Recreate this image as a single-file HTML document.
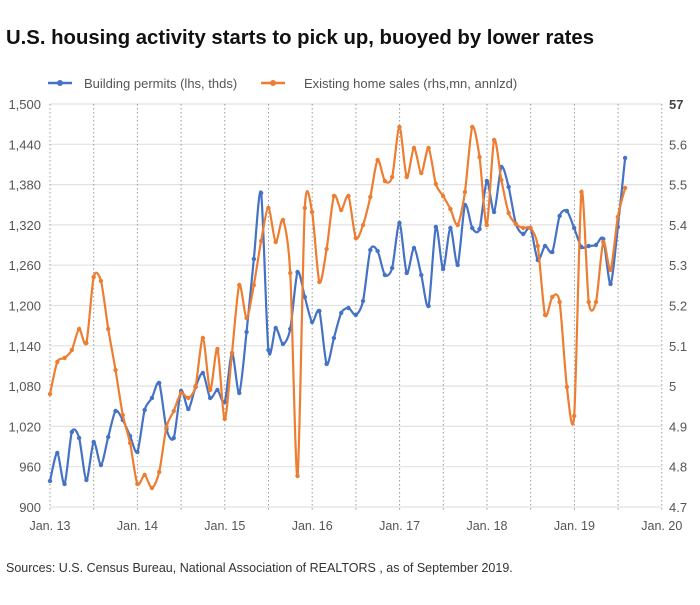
<!DOCTYPE html>
<html><head><meta charset="utf-8"><style>
body{margin:0;background:#fff;font-family:"Liberation Sans",sans-serif;}
</style></head><body>
<svg id="s" width="700" height="600" xmlns="http://www.w3.org/2000/svg" font-family="Liberation Sans, sans-serif">
<text x="6" y="44" font-size="20" font-weight="bold" fill="#111" textLength="588" lengthAdjust="spacingAndGlyphs">U.S. housing activity starts to pick up, buoyed by lower rates</text>
<line x1="48" y1="83" x2="72" y2="83" stroke="#4472c4" stroke-width="2.5"/><circle cx="60" cy="83" r="3" fill="#4472c4"/>
<text x="84" y="88" font-size="13" fill="#555">Building permits (lhs, thds)</text>
<line x1="261" y1="83" x2="285" y2="83" stroke="#ed7d31" stroke-width="2.5"/><circle cx="273" cy="83" r="3" fill="#ed7d31"/>
<text x="304" y="88" font-size="13" fill="#555">Existing home sales (rhs,mn, annlzd)</text>
<g id="grid"></g>
<g id="lines"></g>
<text x="6" y="572" font-size="12.5" fill="#333">Sources: U.S. Census Bureau, National Association of REALTORS , as of September 2019.</text>
</svg>
<script>
const NS="http://www.w3.org/2000/svg";
const g=document.getElementById('grid'),L=document.getElementById('lines');
function el(t,a,p,txt){const e=document.createElementNS(NS,t);for(const k in a)e.setAttribute(k,a[k]);if(txt!==undefined)e.textContent=txt;(p||g).appendChild(e);return e;}
const y0=104,y1=507;
const lv=["1,500","1,440","1,380","1,320","1,260","1,200","1,140","1,080","1,020","960","900"];
const rv=["57","5.6","5.5","5.4","5.3","5.2","5.1","5","4.9","4.8","4.7"];
for(let i=0;i<11;i++){const y=y0+i*(y1-y0)/10;
 el('line',{x1:50,x2:662,y1:y,y2:y,stroke:'#e2e2e2','stroke-width':1.2});
 el('text',{x:41,y:y+5,'font-size':13,fill:'#555','text-anchor':'end'},g,lv[i]);
 el('text',{x:669,y:y+5,'font-size':13,fill:i==0?'#444':'#555','font-weight':i==0?'bold':'normal'},g,rv[i]);}
for(let k=0;k<=14;k++){const x=50+k*43.7;
 el('line',{x1:x,x2:x,y1:104,y2:510,stroke:'#999','stroke-width':1,'stroke-dasharray':'1.5,2.5'});}
const yrs=["Jan. 13","Jan. 14","Jan. 15","Jan. 16","Jan. 17","Jan. 18","Jan. 19","Jan. 20"];
for(let k=0;k<8;k++)el('text',{x:50+k*87.4,y:530,'font-size':12.5,fill:'#555','text-anchor':'middle'},g,yrs[k]);
const B=[481,453,484,432,438,480,442,465,437,411,420,436,452,410,398,383,429,438,391,409,387,373,398,390,402,353,393,332,259,193,350,328,344,329,272,297,322,311,364,338,313,308,315,301,250,251,275,268,223,273,248,275,306,227,269,228,265,205,228,229,181,212,167,187,224,234,228,260,246,252,216,211,228,247,246,245,239,284,227,158];
const O=[394,362,358,350,329,343,277,281,329,370,415,443,484,475,488,472,427,411,393,398,386,338,390,349,419,353,285,318,285,241,208,242,220,273,476,208,212,282,249,196,210,196,238,225,197,160,181,177,127,177,148,173,148,184,196,209,225,192,127,157,225,140,180,213,224,228,228,246,315,297,302,387,416,192,302,302,242,270,217,188];
function draw(Y,c){const P=Y.map((y,i)=>[50+i*7.28,y]);let d='M'+P[0];
 for(let i=0;i<P.length-1;i++){const p0=P[i-1]||P[i],p1=P[i],p2=P[i+1],p3=P[i+2]||p2,t=0.4/3;
  d+=`C${p1[0]+(p2[0]-p0[0])*t},${p1[1]+(p2[1]-p0[1])*t} ${p2[0]-(p3[0]-p1[0])*t},${p2[1]-(p3[1]-p1[1])*t} ${p2[0]},${p2[1]}`;}
 el('path',{d:d,fill:'none',stroke:c,'stroke-width':2.2},L);
 P.forEach(p=>el('circle',{cx:p[0],cy:p[1],r:2.2,fill:c},L));}
draw(B,'#4472c4');draw(O,'#ed7d31');
</script>
</body></html>
